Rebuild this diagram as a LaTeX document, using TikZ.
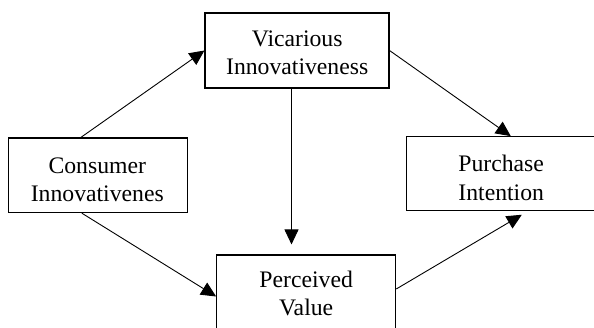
\documentclass[tikz,border=0pt]{standalone}
\usepackage{fontspec}
\setmainfont{Liberation Serif}
\usetikzlibrary{arrows.meta}
\tikzset{
  box/.style={draw, line width=1.1pt, inner sep=0pt},
  txt/.style={align=center, inner sep=0pt, font=\fontsize{23.7pt}{28.3pt}\selectfont},
  arr/.style={line width=0.9pt, -{Triangle[length=15pt,width=14pt]}}
}
\begin{document}
\begin{tikzpicture}[x=1pt,y=-1pt]
\useasboundingbox (0,0) rectangle (594,327);
\clip (0,0) rectangle (594,327);
\node[box, minimum width=184pt, minimum height=75pt] (vic) at (297,50.5) {};
\node[box, minimum width=179pt, minimum height=74.7pt] (con) at (97.9,175.3) {};
\node[box, minimum width=188pt, minimum height=74pt] (pur) at (500.8,173.7) {};
\node[box, minimum width=179pt, minimum height=76pt] (per) at (306.2,293) {};
\node[txt] (vict) at (297.2,52.8) {Vicarious\\Innovativeness};
\node[txt] (cont) at (97.3,179.7) {Consumer\\Innovativenes};
\node[txt] (purt) at (501.2,178) {Purchase\\Intention};
\node[txt] (pert) at (306.2,293.4) {Perceived\\Value};
\draw[arr] ([xshift=-17pt]con.north) -- (vic.west);
\draw[arr] (vic.east) -- ([xshift=10pt]pur.north);
\draw[arr] ([xshift=-5.5pt]vic.south) -- ([xshift=-14.7pt,yshift=10pt]per.north);
\draw[arr] ([xshift=-16pt]con.south) -- ([yshift=-3.5pt]per.west);
\draw[arr] ([yshift=4pt]per.east) -- ([xshift=21pt,yshift=-3.5pt]pur.south);
\end{tikzpicture}
\end{document}
